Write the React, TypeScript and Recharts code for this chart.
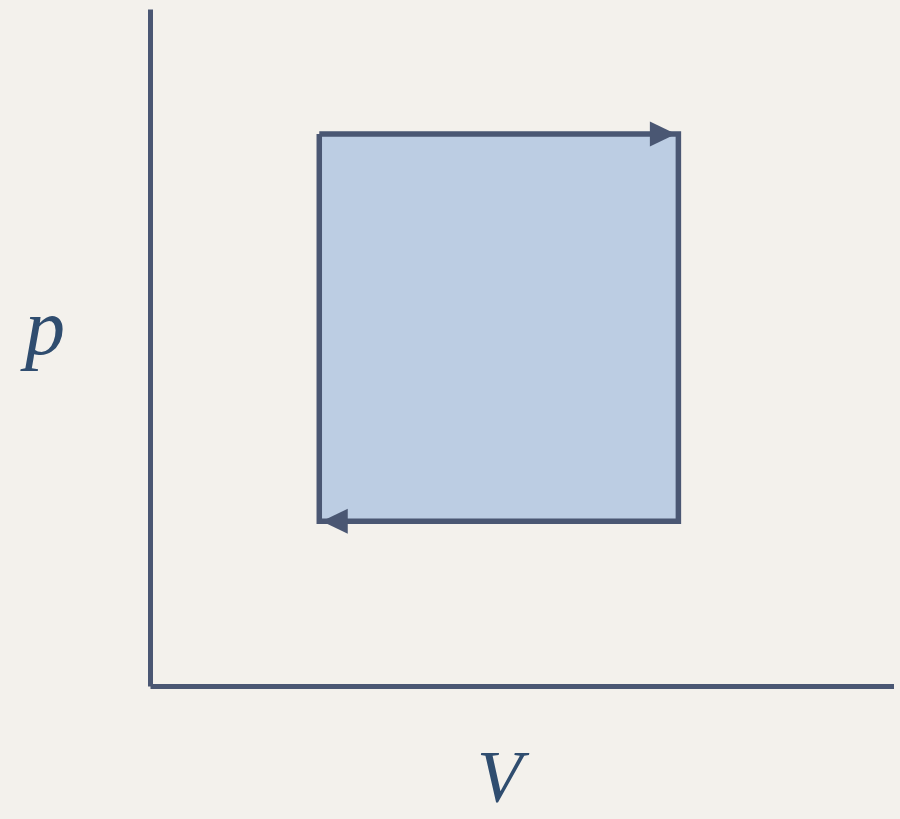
import { ComposedChart, XAxis, YAxis, Scatter, ReferenceArea, Label } from "recharts";

// p–V cycle: corners in (volume, pressure) units
const cycleV = [2.27, 7.1, 7.1, 2.27, 2.27];
const cycleP = [8.16, 8.16, 2.44, 2.44, 8.16];
// arrowheads: at the end of the top stroke (to the right) and of the bottom stroke (to the left)
const arrowV = [7.1, 2.27];
const arrowP = [8.16, 2.44];
const arrowDir = [1, -1];

const AXIS_LABELS = { x: "V", y: "p" };

const INK = "#4a5773";
const FILL = "#bccde3";
const TEXT = "#2f4d6f";
const BG = "#f3f1ec";

const cycle = cycleV.map((V, i) => ({ V, p: cycleP[i] }));
const arrows = arrowV.map((V, i) => ({ V, p: arrowP[i], dir: arrowDir[i] }));

interface ArrowProps {
  cx?: number;
  cy?: number;
  payload?: { dir: number };
}

function ArrowHead({ cx = 0, cy = 0, payload }: ArrowProps) {
  const d = payload?.dir ?? 1;
  const tip = cx - 2.5 * d;
  const base = cx - 28.5 * d;
  return <path d={`M${tip},${cy} L${base},${cy - 12.5} L${base},${cy + 12.5} Z`} fill={INK} />;
}

const labelFont = {
  fontFamily: "'Liberation Serif', 'DejaVu Serif', serif",
  fontStyle: "italic",
  fill: TEXT,
};

export default function App() {
  return (
    <div style={{ position: "fixed", inset: 0, background: BG }}>
      <div style={{ position: "absolute", left: 0, top: 0, width: 900, height: 819 }}>
        <ComposedChart
          width={900}
          height={819}
          margin={{ top: 9.5, right: 6, bottom: 0, left: 0 }}
        >
          <XAxis
            type="number"
            dataKey="V"
            domain={[0, 10]}
            height={132.5}
            tick={false}
            tickLine={false}
            axisLine={{ stroke: INK, strokeWidth: 5 }}
          >
            <Label
              content={() => (
                <text x={477} y={802} fontSize={74} {...labelFont}>
                  {AXIS_LABELS.x}
                </text>
              )}
            />
          </XAxis>
          <YAxis
            type="number"
            dataKey="p"
            domain={[0, 10]}
            width={150.5}
            tick={false}
            tickLine={false}
            axisLine={{ stroke: INK, strokeWidth: 5 }}
          >
            <Label
              content={() => (
                <text x={25} y={354} fontSize={80} {...labelFont}>
                  {AXIS_LABELS.y}
                </text>
              )}
            />
          </YAxis>
          <ReferenceArea
            x1={cycleV[0]}
            x2={cycleV[1]}
            y1={cycleP[2]}
            y2={cycleP[0]}
            fill={FILL}
            fillOpacity={1}
            stroke="none"
          />
          <Scatter
            data={cycle}
            line={{ stroke: INK, strokeWidth: 5.5 }}
            shape={() => <g />}
            isAnimationActive={false}
          />
          <Scatter
            data={arrows}
            shape={(props: ArrowProps) => <ArrowHead {...props} />}
            isAnimationActive={false}
          />
        </ComposedChart>
      </div>
    </div>
  );
}
